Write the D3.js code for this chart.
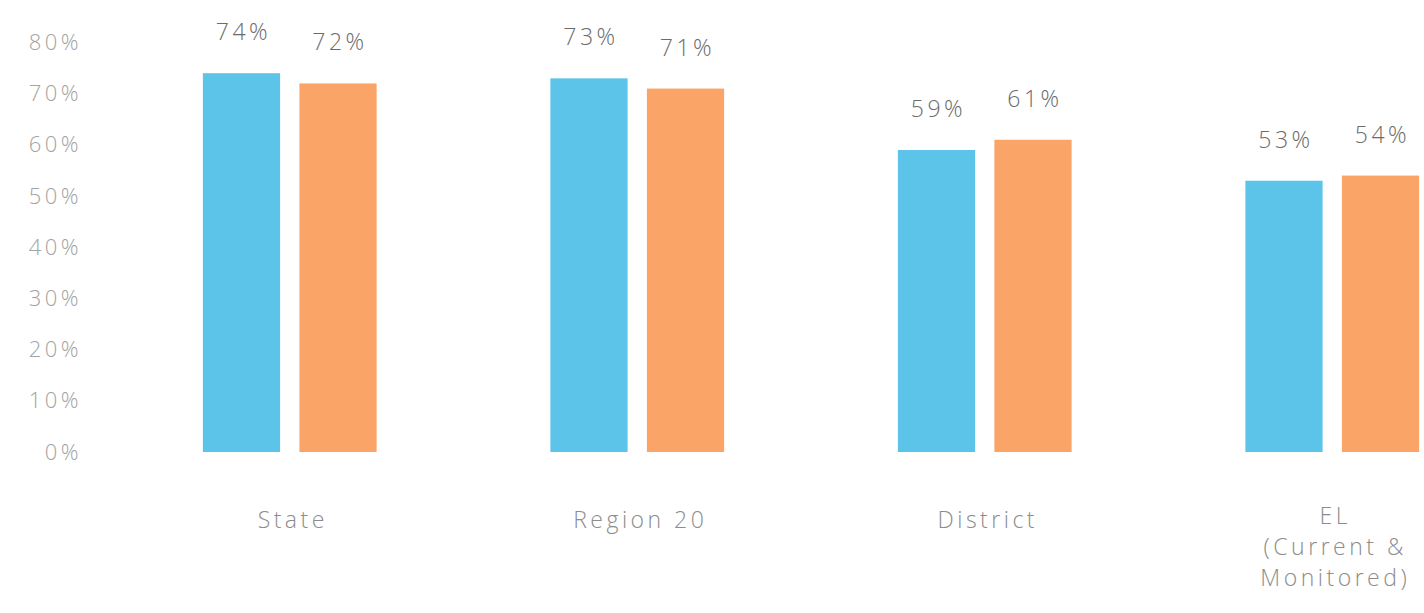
<!DOCTYPE html>
<html>
<head>
<meta charset="utf-8">
<script src="https://cdn.jsdelivr.net/npm/d3@7"></script>
<style>
  html, body { margin: 0; padding: 0; background: #ffffff; }
  svg { display: block; }
  text { font-family: "Open Sans", "DejaVu Sans", sans-serif; font-weight: 300; }
</style>
</head>
<body>
<svg id="chart" width="1424" height="613"></svg>
<script>
// Categories and their (possibly multi-line) axis labels
const categories = ["State", "Region 20", "District", "EL"];
const categoryLabels = [["State"], ["Region 20"], ["District"], ["EL", "(Current &", "Monitored)"]];

// Two series per category, values in percent
const seriesNames = ["Series A", "Series B"];
const seriesA = [74, 73, 59, 53];
const seriesB = [72, 71, 61, 54];

// Y axis ticks
const yTicks = [0, 10, 20, 30, 40, 50, 60, 70, 80];

const colors = ["#5cc4e8", "#faa467"];

const svg = d3.select("#chart");

const y = d3.scaleLinear().domain([0, 80]).range([452, 42.5]);

const x0 = d3.scaleBand()
  .domain(categories)
  .range([116, 1506])
  .paddingInner(0.5)
  .paddingOuter(0.25);

const x1 = d3.scaleBand()
  .domain(seriesNames)
  .range([0, x0.bandwidth()])
  .paddingInner(0.2);

const color = d3.scaleOrdinal().domain(seriesNames).range(colors);

// Y axis: labels only, no domain line or tick marks
const yAxis = d3.axisLeft(y)
  .tickValues(yTicks)
  .tickFormat(d => d + "%")
  .tickSize(0)
  .tickPadding(0);

const gy = svg.append("g")
  .attr("transform", "translate(82,0)")
  .call(yAxis);
gy.select(".domain").remove();
gy.selectAll("text")
  .attr("font-family", null)
  .style("font-size", "22px")
  .style("letter-spacing", "3.5px")
  .style("fill", "#a3a3a3");

// Rows of data: one per category
const rows = categories.map((c, i) => ({
  category: c,
  values: [
    { name: seriesNames[0], value: seriesA[i] },
    { name: seriesNames[1], value: seriesB[i] }
  ]
}));

const groups = svg.append("g")
  .selectAll("g")
  .data(rows)
  .join("g")
  .attr("transform", d => `translate(${x0(d.category)},0)`);

groups.selectAll("rect")
  .data(d => d.values)
  .join("rect")
  .attr("x", d => x1(d.name))
  .attr("y", d => y(d.value))
  .attr("width", x1.bandwidth())
  .attr("height", d => y(0) - y(d.value))
  .attr("fill", d => color(d.name));

// Value labels above each bar
groups.selectAll("text.value")
  .data(d => d.values)
  .join("text")
  .attr("class", "value")
  .attr("x", d => x1(d.name) + x1.bandwidth() / 2 + 2)
  .attr("y", d => y(d.value) - 33)
  .attr("text-anchor", "middle")
  .style("font-size", "23px")
  .style("letter-spacing", "3.5px")
  .style("fill", "#6b6b6b")
  .text(d => d.value + "%");

// Category labels below the bars
const xAxis = svg.append("g");
categories.forEach((c, i) => {
  const cx = x0(c) + x0.bandwidth() / 2 + 3;
  const t = xAxis.append("text")
    .attr("x", cx)
    .attr("y", categoryLabels[i].length > 1 ? 524 : 528)
    .attr("text-anchor", "middle")
    .style("font-size", "23px")
    .style("letter-spacing", "3.5px")
    .style("fill", "#8c8c8c");
  categoryLabels[i].forEach((line, j) => {
    t.append("tspan")
      .attr("x", cx)
      .attr("dy", j === 0 ? 0 : 31)
      .text(line);
  });
});
</script>
</body>
</html>
